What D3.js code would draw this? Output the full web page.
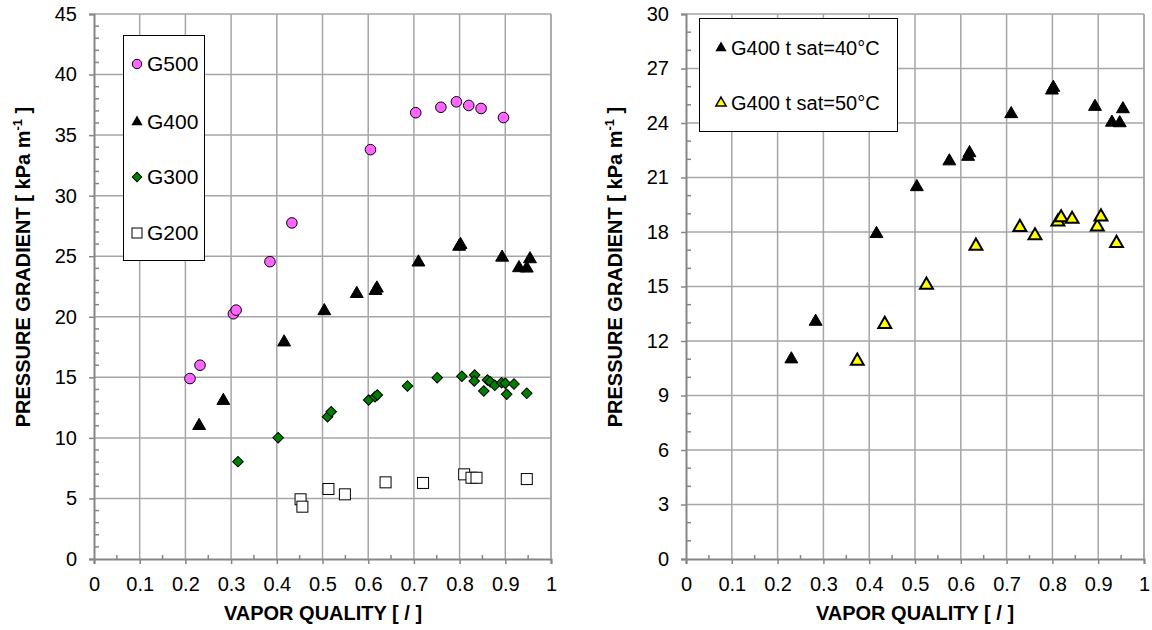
<!DOCTYPE html>
<html>
<head>
<meta charset="utf-8">
<script src="https://cdn.jsdelivr.net/npm/d3@7"></script>
<style>
  body { margin: 0; background: #fff; }
  svg text { font-family: "Liberation Sans", Arial, sans-serif; }
</style>
</head>
<body>
<div id="container"></div>
<script>
// data
var g500 = [[0.21, 14.9], [0.232, 16.0], [0.305, 20.25], [0.311, 20.55], [0.385, 24.55], [0.433, 27.75],
    [0.605, 33.8], [0.704, 36.85], [0.759, 37.3], [0.793, 37.75], [0.82, 37.45], [0.847, 37.2], [0.896, 36.45]];
var g400 = [[0.23, 11.0], [0.283, 13.07], [0.416, 17.9], [0.504, 20.48], [0.575, 21.9], [0.616, 22.15],
    [0.619, 22.35], [0.71, 24.5], [0.799, 25.8], [0.802, 25.95], [0.893, 24.9], [0.93, 24.03], [0.947, 24.0], [0.954, 24.77]];
var g300 = [[0.315, 8.04], [0.403, 10.02], [0.511, 11.75], [0.519, 12.16], [0.601, 13.13], [0.615, 13.4],
    [0.62, 13.54], [0.686, 14.29], [0.751, 14.97], [0.805, 15.09], [0.833, 15.19], [0.832, 14.7], [0.853, 13.87],
    [0.861, 14.78], [0.867, 14.64], [0.877, 14.34], [0.892, 14.56], [0.9, 14.51], [0.903, 13.6], [0.919, 14.45], [0.947, 13.68]];
var g200 = [[0.452, 4.93], [0.456, 4.32], [0.513, 5.78], [0.549, 5.34], [0.638, 6.33], [0.72, 6.28],
    [0.81, 6.99], [0.826, 6.71], [0.837, 6.71], [0.947, 6.6]];
var g400t50 = [[0.374, 10.9], [0.434, 12.92], [0.525, 15.08], [0.633, 17.23], [0.729, 18.26], [0.762, 17.8],
    [0.812, 18.56], [0.819, 18.79], [0.843, 18.71], [0.898, 18.29], [0.906, 18.84], [0.94, 17.38]];

var xTicks = [0, 0.1, 0.2, 0.3, 0.4, 0.5, 0.6, 0.7, 0.8, 0.9, 1];
var leftTicks = [0, 5, 10, 15, 20, 25, 30, 35, 40, 45];
var rightTicks = [0, 3, 6, 9, 12, 15, 18, 21, 24, 27, 30];

var width = 1152, height = 630;
var svg = d3.select("#container").append("svg")
    .attr("width", width).attr("height", height);

var gridColor = "#a6a6a6", axisColor = "#868686";

function makePanel(x0, x1, yMax, yTicks, xTitleX, yTitleX) {
    var x = d3.scaleLinear().domain([0, 1]).range([x0, x1]);
    var y = d3.scaleLinear().domain([0, yMax]).range([559, 14]);
    var g = svg.append("g");

    // grid
    g.selectAll(".vg").data(xTicks.slice(1)).enter().append("line")
        .attr("x1", d => x(d)).attr("x2", d => x(d))
        .attr("y1", y(0)).attr("y2", y(yMax))
        .attr("stroke", gridColor).attr("stroke-width", 1.5);
    g.selectAll(".hg").data(yTicks.slice(1)).enter().append("line")
        .attr("x1", x(0)).attr("x2", x(1))
        .attr("y1", d => y(d)).attr("y2", d => y(d))
        .attr("stroke", gridColor).attr("stroke-width", 1.5);

    // minor ticks (inside)
    var xMinor = d3.range(0.05, 1, 0.1);
    g.selectAll(".xm").data(xMinor).enter().append("line")
        .attr("x1", d => x(d)).attr("x2", d => x(d))
        .attr("y1", y(0)).attr("y2", y(0) - 4)
        .attr("stroke", axisColor).attr("stroke-width", 1.5);
    var yMinor = d3.range(1, yMax).filter(v => yTicks.indexOf(v) < 0);
    g.selectAll(".ym").data(yMinor).enter().append("line")
        .attr("x1", x(0)).attr("x2", x(0) + 5)
        .attr("y1", d => y(d)).attr("y2", d => y(d))
        .attr("stroke", axisColor).attr("stroke-width", 1.5);

    // axes
    var xAxis = d3.axisBottom(x).tickValues(xTicks).tickSize(5).tickPadding(13)
        .tickFormat(d => d3.format("")(d));
    var gx = g.append("g").attr("transform", "translate(0," + y(0) + ")").call(xAxis);
    var yAxis = d3.axisLeft(y).tickValues(yTicks).tickSize(5).tickPadding(12);
    var gy = g.append("g").attr("transform", "translate(" + x(0) + ",0)").call(yAxis);
    [gx, gy].forEach(function (a) {
        a.select(".domain").attr("stroke", axisColor).attr("stroke-width", 2);
        a.selectAll(".tick line").attr("stroke", axisColor).attr("stroke-width", 1.5);
        a.selectAll("text").attr("fill", "#000").style("font-size", "20px")
            .style("font-family", "'Liberation Sans', Arial, sans-serif");
    });
    // right border
    g.append("line").attr("x1", x(1)).attr("x2", x(1)).attr("y1", y(0)).attr("y2", y(yMax))
        .attr("stroke", gridColor).attr("stroke-width", 1.5);

    // titles
    g.append("text").attr("x", xTitleX).attr("y", 620)
        .attr("text-anchor", "middle").style("font-size", "20px").style("font-weight", "bold")
        .text("VAPOR QUALITY [ / ]");
    var t = g.append("text").attr("transform", "translate(" + yTitleX + ",267) rotate(-90)")
        .attr("text-anchor", "middle").style("font-size", "20px").style("font-weight", "bold");
    t.append("tspan").text("PRESSURE  GRADIENT [ kPa m");
    t.append("tspan").attr("dy", -8).style("font-size", "13px").text("-1");
    t.append("tspan").attr("dy", 8).text(" ]");
    return {x: x, y: y, g: g};
}

var tri = d3.symbol().type(d3.symbolTriangle).size(72);
var dia = d3.symbol().type(d3.symbolSquare).size(56);

function circles(p, data, fill) {
    p.g.selectAll(null).data(data).enter().append("circle")
        .attr("cx", d => p.x(d[0])).attr("cy", d => p.y(d[1])).attr("r", 5.3)
        .attr("fill", fill).attr("stroke", "#000").attr("stroke-width", 1);
}
function symbols(p, data, sym, fill, sw, rot) {
    p.g.selectAll(null).data(data).enter().append("path")
        .attr("d", sym)
        .attr("transform", d => "translate(" + p.x(d[0]) + "," + p.y(d[1]) + ") rotate(" + (rot || 0) + ")")
        .attr("fill", fill).attr("stroke", "#000").attr("stroke-width", sw);
}
function squares(p, data) {
    p.g.selectAll(null).data(data).enter().append("rect")
        .attr("x", d => p.x(d[0]) - 5.5).attr("y", d => p.y(d[1]) - 5.5)
        .attr("width", 11).attr("height", 11)
        .attr("fill", "#fff").attr("stroke", "#000").attr("stroke-width", 1);
}

// left panel
var L = makePanel(94, 551, 45, leftTicks, 323, 30);
squares(L, g200);
symbols(L, g300, dia, "#008000", 1, 45);
symbols(L, g400, tri, "#000", 1);
circles(L, g500, "#ff66ff");

// left legend
L.g.append("rect").attr("x", 123.5).attr("y", 35.5).attr("width", 81).attr("height", 225)
    .attr("fill", "#fff").attr("stroke", "#000").attr("stroke-width", 1);
var legL = [["G500", 64], ["G400", 122], ["G300", 177], ["G200", 233]];
L.g.append("circle").attr("cx", 137).attr("cy", legL[0][1]).attr("r", 4.7)
    .attr("fill", "#ff66ff").attr("stroke", "#000");
L.g.append("path").attr("d", d3.symbol().type(d3.symbolTriangle).size(55))
    .attr("transform", "translate(137," + legL[1][1] + ")").attr("fill", "#000");
L.g.append("path").attr("d", d3.symbol().type(d3.symbolSquare).size(45))
    .attr("transform", "translate(137," + legL[2][1] + ") rotate(45)").attr("fill", "#008000").attr("stroke", "#000");
L.g.append("rect").attr("x", 132).attr("y", legL[3][1] - 5).attr("width", 10).attr("height", 10)
    .attr("fill", "#fff").attr("stroke", "#000");
L.g.selectAll(".lt").data(legL).enter().append("text")
    .attr("x", 147).attr("y", d => d[1] + 7).style("font-size", "21px").text(d => d[0]);

// right panel
var R = makePanel(686, 1144, 30, rightTicks, 915, 622);
symbols(R, g400, tri, "#000", 1);
symbols(R, g400t50, tri, "#ffff00", 2);

R.g.append("rect").attr("x", 699.5).attr("y", 18.5).attr("width", 198).attr("height", 113)
    .attr("fill", "#fff").attr("stroke", "#000").attr("stroke-width", 1);
var legR = [["G400 t sat=40°C", 48], ["G400 t sat=50°C", 103]];
R.g.append("path").attr("d", d3.symbol().type(d3.symbolTriangle).size(55))
    .attr("transform", "translate(721," + legR[0][1] + ")").attr("fill", "#000");
R.g.append("path").attr("d", d3.symbol().type(d3.symbolTriangle).size(45))
    .attr("transform", "translate(721," + legR[1][1] + ")").attr("fill", "#ffff00")
    .attr("stroke", "#000").attr("stroke-width", 1.5);
R.g.selectAll(".rt").data(legR).enter().append("text")
    .attr("x", 731).attr("y", d => d[1] + 7).style("font-size", "20px").text(d => d[0]);
</script>
</body>
</html>
